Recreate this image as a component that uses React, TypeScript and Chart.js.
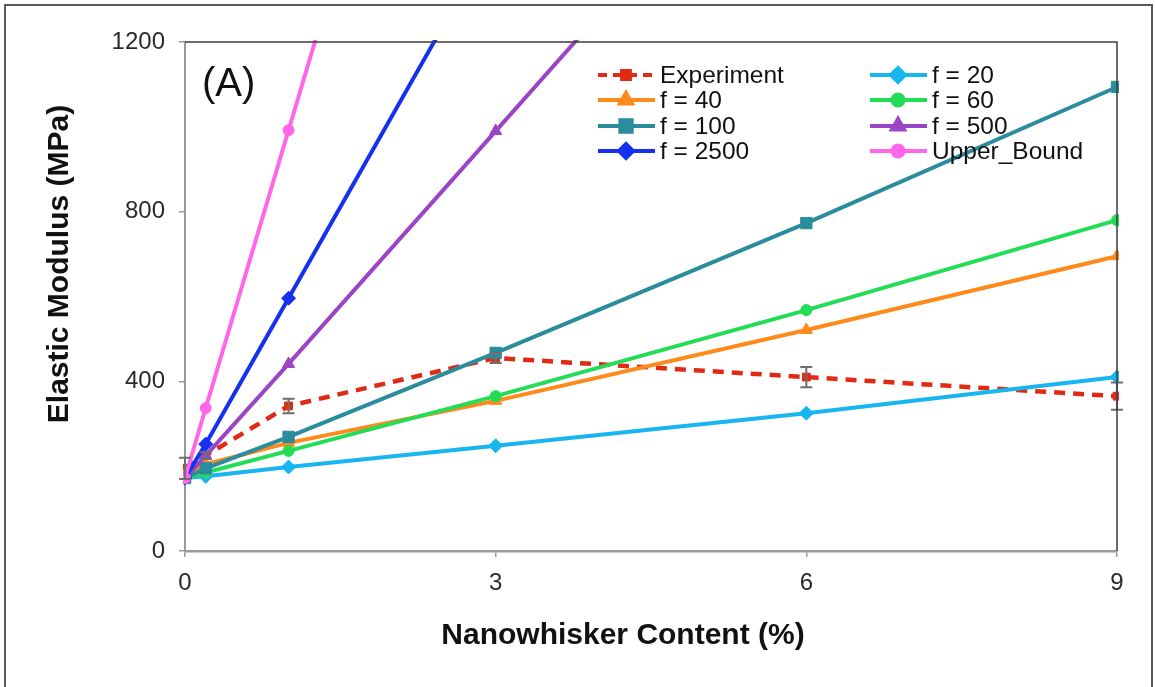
import React, { useEffect, useRef } from "react";
import { Chart, registerables } from "chart.js";
import { drawPoint } from "chart.js/helpers";

Chart.register(...registerables);

// ---- data ----
const contentPct = [0, 0.2, 1, 3, 6, 9];
const experiment = [195, 225, 342, 455, 410, 365];
const experimentErr = [25, 8, 17, 12, 24, 32];
const f20 = [172, 176, 198, 248, 325, 410];
const f40 = [180, 205, 255, 354, 521, 695];
const f60 = [172, 185, 236, 365, 568, 780];
const f100 = [172, 195, 269, 467, 773, 1094];
const f500 = [172, 225, 441, 990, 1814, 2638];
const f2500 = [172, 252, 596, 1456, 2746, 4036];
const upperBound = [172, 337, 992, 2630, 5087, 7544];
const xTicks = [0, 3, 6, 9];
const yTicks = [0, 400, 800, 1200];

const seriesNames = ["Experiment", "f = 20", "f = 40", "f = 60", "f = 100", "f = 500", "f = 2500", "Upper_Bound"];
const seriesValues = [experiment, f20, f40, f60, f100, f500, f2500, upperBound];
const seriesColors = ["#e02a14", "#17b6f0", "#ff8a1c", "#22dd55", "#2a8c9c", "#9c44c6", "#1530f0", "#ff66e8"];
const seriesPoints = ["rect", "rectRot", "triangle", "circle", "rect", "triangle", "rectRot", "circle"];
const seriesRadius = [5.5, 7, 7, 5.5, 8, 7, 7, 5.5];

const FONT = "Arial, 'Liberation Sans', Helvetica, sans-serif";

const decorPlugin = {
  id: "decor",
  beforeDraw(chart: any) {
    const ctx = chart.ctx;
    ctx.save();
    ctx.fillStyle = "#ffffff";
    ctx.fillRect(0, 0, chart.width, chart.height);
    ctx.restore();
  },
  afterDatasetsDraw(chart: any) {
    const ctx = chart.ctx;
    const xs = chart.scales.x;
    const ys = chart.scales.y;
    // error bars
    ctx.save();
    ctx.strokeStyle = "#6e6e6e";
    ctx.lineWidth = 2;
    contentPct.forEach((xv, i) => {
      const e = experimentErr[i];
      const px = xs.getPixelForValue(xv);
      const top = ys.getPixelForValue(experiment[i] + e);
      const bot = ys.getPixelForValue(experiment[i] - e);
      ctx.beginPath();
      ctx.moveTo(px, top);
      ctx.lineTo(px, bot);
      ctx.moveTo(px - 6, top);
      ctx.lineTo(px + 6, top);
      ctx.moveTo(px - 6, bot);
      ctx.lineTo(px + 6, bot);
      ctx.stroke();
    });
    ctx.restore();
  },
  afterDraw(chart: any) {
    const ctx = chart.ctx;
    const area = chart.chartArea;
    ctx.save();
    // outer frame
    ctx.strokeStyle = "#5a5a5a";
    ctx.lineWidth = 2;
    ctx.strokeRect(5, 5, 1147, 720);
    // plot box top/right
    ctx.strokeStyle = "#3c3c3c";
    ctx.lineWidth = 1.5;
    ctx.beginPath();
    ctx.moveTo(area.left, area.top);
    ctx.lineTo(area.right, area.top);
    ctx.lineTo(area.right, area.bottom);
    ctx.stroke();

    // (A)
    ctx.fillStyle = "#111";
    ctx.font = `40px ${FONT}`;
    ctx.textAlign = "left";
    ctx.textBaseline = "middle";
    ctx.fillText("(A)", 202, 85);

    // axis titles
    ctx.font = `bold 30px ${FONT}`;
    ctx.textAlign = "center";
    ctx.textBaseline = "middle";
    ctx.fillText("Nanowhisker Content (%)", 623, 636);
    ctx.save();
    ctx.translate(60, 264);
    ctx.rotate(-Math.PI / 2);
    ctx.fillText("Elastic Modulus (MPa)", 0, 0);
    ctx.restore();

    // legend
    const colX = [598, 870];
    const rowY = [75, 100, 126, 151];
    ctx.font = `24.5px ${FONT}`;
    ctx.textAlign = "left";
    ctx.textBaseline = "middle";
    seriesNames.forEach((name, i) => {
      const x0 = colX[i % 2];
      const y0 = rowY[Math.floor(i / 2)];
      const color = seriesColors[i];
      ctx.save();
      ctx.strokeStyle = color;
      ctx.lineWidth = 4;
      if (i === 0) ctx.setLineDash([9, 6]);
      ctx.beginPath();
      ctx.moveTo(x0, y0);
      ctx.lineTo(x0 + 57, y0);
      ctx.stroke();
      ctx.setLineDash([]);
      ctx.fillStyle = color;
      drawPoint(ctx, { pointStyle: seriesPoints[i], radius: seriesRadius[i], rotation: 0, borderWidth: 1 }, x0 + 28, y0);
      ctx.fill();
      ctx.restore();
      ctx.fillStyle = "#111";
      ctx.fillText(name, x0 + 62, y0 + 1);
    });
    ctx.restore();
  },
};

export default function App() {
  const ref = useRef<HTMLCanvasElement | null>(null);
  useEffect(() => {
    document.body.style.margin = "0";
    const canvas = ref.current;
    if (!canvas) return;
    const datasets = seriesNames.map((name, i) => ({
      label: name,
      data: contentPct.map((x, j) => ({ x, y: seriesValues[i][j] })),
      borderColor: seriesColors[i],
      backgroundColor: seriesColors[i],
      borderWidth: i === 0 ? 4.5 : 4,
      borderDash: i === 0 ? [11, 8] : [],
      pointStyle: seriesPoints[i],
      pointRadius: seriesRadius[i],
      pointBorderWidth: 1,
      pointBorderColor: seriesColors[i],
      pointBackgroundColor: seriesColors[i],
      tension: 0,
      fill: false,
      clip: 2,
      order: seriesNames.length - i,
    }));
    const chart = new Chart(canvas, {
      type: "line",
      data: { datasets },
      options: {
        responsive: false,
        animation: false,
        devicePixelRatio: 1,
        layout: { padding: { top: 42, right: 38, left: 0, bottom: 0 } },
        plugins: { legend: { display: false }, tooltip: { enabled: false } },
        scales: {
          x: {
            type: "linear",
            min: 0,
            max: 9,
            afterFit: (s: any) => { s.height = 136; },
            afterBuildTicks: (s: any) => { s.ticks = xTicks.map((v) => ({ value: v })); },
            grid: { display: true, drawOnChartArea: false, drawTicks: true, tickLength: 6, color: "#9a9a9a", lineWidth: 1.5 },
            border: { display: true, color: "#9a9a9a", width: 2.5 },
            ticks: { font: { family: FONT, size: 24 }, color: "#2a2a2a", padding: 12, maxRotation: 0, callback: (v: any) => String(v) },
          },
          y: {
            type: "linear",
            min: 0,
            max: 1200,
            afterFit: (s: any) => { s.width = 185; },
            afterBuildTicks: (s: any) => { s.ticks = yTicks.map((v) => ({ value: v })); },
            grid: { display: true, drawOnChartArea: false, drawTicks: true, tickLength: 6, color: "#9a9a9a", lineWidth: 1.5 },
            border: { display: true, color: "#9a9a9a", width: 2 },
            ticks: { font: { family: FONT, size: 24 }, color: "#2a2a2a", padding: 14, callback: (v: any) => String(v) },
          },
        },
      },
      plugins: [decorPlugin],
    });
    return () => chart.destroy();
  }, []);
  return (
    <div style={{ width: 1155, height: 687, position: "relative", background: "#fff" }}>
      <canvas ref={ref} width={1155} height={687} style={{ display: "block", width: 1155, height: 687 }} />
    </div>
  );
}
